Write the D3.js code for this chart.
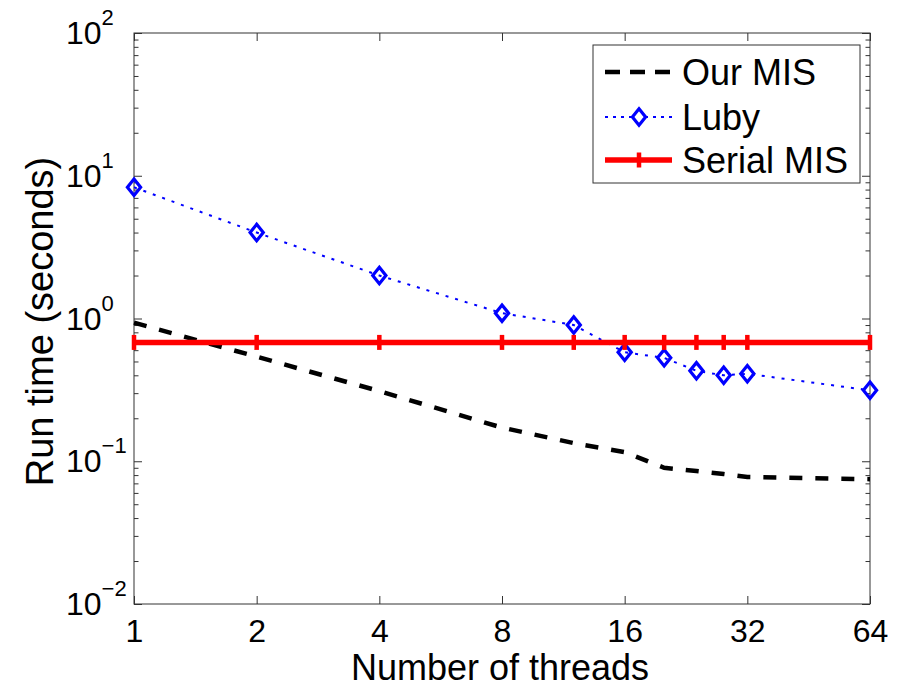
<!DOCTYPE html>
<html>
<head>
<meta charset="utf-8">
<script src="https://cdn.jsdelivr.net/npm/d3@7"></script>
<style>
  body { margin: 0; background: #fff; }
  text { font-family: "Liberation Sans", Arial, sans-serif; fill: #000; }
</style>
</head>
<body>
<svg id="chart"></svg>
<script>
// data
const threads = [1, 2, 4, 8, 12, 16, 20, 24, 28, 32, 64];
const ourMIS = [0.935, 0.54, 0.31, 0.172, 0.134, 0.116, 0.090, 0.0855, 0.0814, 0.0776, 0.0749];
const luby = [8.3, 4.0, 2.0, 1.09, 0.90, 0.58, 0.53, 0.43, 0.40, 0.41, 0.314];
const serialMIS = [0.68, 0.68, 0.68, 0.68, 0.68, 0.68, 0.68, 0.68, 0.68, 0.68, 0.68];
const seriesNames = ["Our MIS", "Luby", "Serial MIS"];
const xTicks = [1, 2, 4, 8, 16, 32, 64];
const yExponents = [-2, -1, 0, 1, 2];

const W = 900, H = 684;
const margin = { top: 33, right: 30, bottom: 80, left: 134 };
const width = W - margin.left - margin.right;
const height = H - margin.top - margin.bottom;

const svg = d3.select("#chart").attr("width", W).attr("height", H);
const g = svg.append("g").attr("transform", `translate(${margin.left},${margin.top})`);

const x = d3.scaleLog().base(2).domain([1, 64]).range([0, width]);
const y = d3.scaleLog().domain([0.01, 100]).range([height, 0]);

const yMajor = yExponents.map(e => Math.pow(10, e));
const yMinor = [];
yExponents.slice(0, -1).forEach(e => {
  for (let k = 2; k <= 9; k++) yMinor.push(k * Math.pow(10, e));
});

const axisColor = "#333";
function styleAxis(sel) {
  sel.select(".domain").remove();
  sel.selectAll(".tick line").attr("stroke", axisColor);
}

// ticks on all four sides, pointing inward
g.append("g").attr("transform", `translate(0,${height})`)
  .call(d3.axisBottom(x).tickValues(xTicks).tickSize(-8).tickPadding(15).tickFormat(d3.format("d")))
  .call(styleAxis)
  .call(s => s.selectAll("text").attr("font-size", 32).attr("font-family", "Liberation Sans, Arial, sans-serif").attr("fill", "#000"));
g.append("g")
  .call(d3.axisTop(x).tickValues(xTicks).tickSize(-8).tickFormat(""))
  .call(styleAxis);

[0, width].forEach(xp => {
  const mk = xp === 0 ? d3.axisLeft : d3.axisRight;
  g.append("g").attr("transform", `translate(${xp},0)`)
    .call(mk(y).tickValues(yMajor).tickSize(-8).tickFormat(""))
    .call(styleAxis);
  g.append("g").attr("transform", `translate(${xp},0)`)
    .call(mk(y).tickValues(yMinor).tickSize(-4.5).tickFormat(""))
    .call(styleAxis);
});

// y tick labels 10^n
yExponents.forEach(e => {
  const t = g.append("text")
    .attr("x", -68)
    .attr("y", y(Math.pow(10, e)) + 11)
    .attr("font-size", 32);
  t.append("tspan").text("10");
  t.append("tspan").attr("font-size", 22).attr("dy", -19)
    .text(e < 0 ? "\u2212" + Math.abs(e) : e);
});

g.append("rect")
  .attr("width", width).attr("height", height)
  .attr("fill", "none").attr("stroke", axisColor).attr("stroke-width", 1);

// lines
const line = vals => d3.line()
  .x((d, i) => x(threads[i]))
  .y(d => y(d))(vals);

g.append("path")
  .attr("d", line(ourMIS))
  .attr("fill", "none").attr("stroke", "#000")
  .attr("stroke-width", 4.5).attr("stroke-dasharray", "13,13");

g.append("path")
  .attr("d", line(luby))
  .attr("fill", "none").attr("stroke", "#0000ff")
  .attr("stroke-width", 2).attr("stroke-dasharray", "3,7");

const diamond = "M0,-8.2L6.6,0L0,8.2L-6.6,0Z";
g.selectAll(".luby").data(luby).join("path")
  .attr("transform", (d, i) => `translate(${x(threads[i])},${y(d)})`)
  .attr("d", diamond)
  .attr("fill", "none").attr("stroke", "#0000ff").attr("stroke-width", 3.2);

g.append("path")
  .attr("d", line(serialMIS))
  .attr("fill", "none").attr("stroke", "#ff0000").attr("stroke-width", 5.5);

g.selectAll(".serial").data(serialMIS).join("line")
  .attr("x1", (d, i) => x(threads[i])).attr("x2", (d, i) => x(threads[i]))
  .attr("y1", d => y(d) - 7.5).attr("y2", d => y(d) + 7.5)
  .attr("stroke", "#ff0000").attr("stroke-width", 4.5);

// axis titles
svg.append("text")
  .attr("x", margin.left + width / 2 - 2).attr("y", 680)
  .attr("text-anchor", "middle").attr("font-size", 36)
  .text("Number of threads");

svg.append("text")
  .attr("transform", `translate(53,${margin.top + height / 2 + 3}) rotate(-90)`)
  .attr("text-anchor", "middle").attr("font-size", 38)
  .text("Run time (seconds)");

// legend
const lg = svg.append("g").attr("transform", "translate(593,45)");
lg.append("rect").attr("width", 267).attr("height", 138)
  .attr("fill", "#fff").attr("stroke", axisColor).attr("stroke-width", 1);

const rowY = [27, 72, 115];
seriesNames.forEach((name, i) => {
  const ry = rowY[i];
  lg.append("text").attr("x", 89).attr("y", ry + 13).attr("font-size", 36).text(name);
  if (i === 0) {
    lg.append("line").attr("x1", 12).attr("x2", 79).attr("y1", ry).attr("y2", ry)
      .attr("stroke", "#000").attr("stroke-width", 4.5).attr("stroke-dasharray", "15,10");
  } else if (i === 1) {
    lg.append("line").attr("x1", 12).attr("x2", 79).attr("y1", ry).attr("y2", ry)
      .attr("stroke", "#0000ff").attr("stroke-width", 2).attr("stroke-dasharray", "3,5");
    lg.append("path").attr("transform", `translate(46,${ry})`).attr("d", diamond)
      .attr("fill", "#fff").attr("stroke", "#0000ff").attr("stroke-width", 3.2);
  } else {
    lg.append("line").attr("x1", 12).attr("x2", 79).attr("y1", ry).attr("y2", ry)
      .attr("stroke", "#ff0000").attr("stroke-width", 5.5);
    lg.append("line").attr("x1", 46).attr("x2", 46).attr("y1", ry - 7.5).attr("y2", ry + 7.5)
      .attr("stroke", "#ff0000").attr("stroke-width", 4.5);
  }
});
</script>
</body>
</html>
